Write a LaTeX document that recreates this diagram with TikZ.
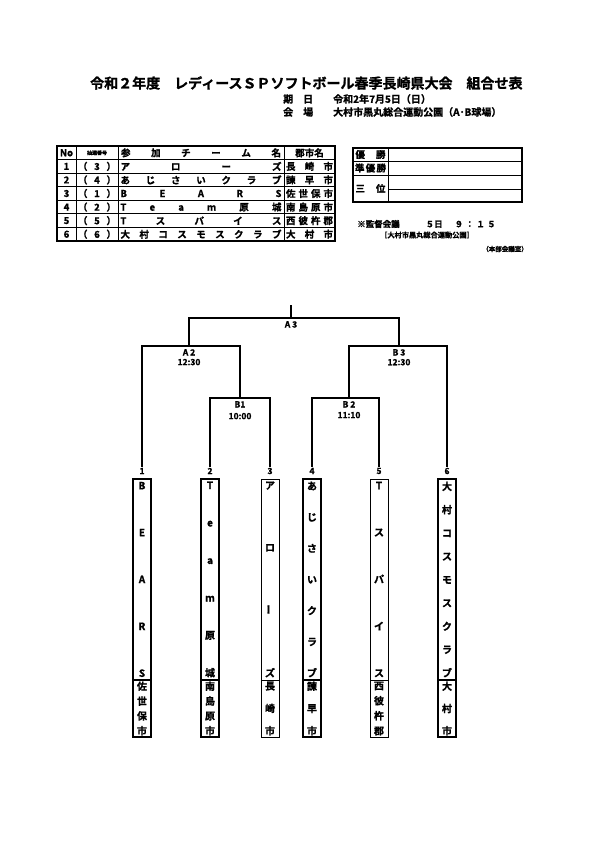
\documentclass[tikz,border=0pt]{standalone}
\usepackage{fontspec}
\setmainfont{Noto Sans CJK JP}[BoldFont={Noto Sans CJK JP Bold}, BoldFeatures={FakeBold=1.2}]
\tikzset{
  bracket/.style={line width=1.1pt},
  namebox/.style={draw, line width=1.5pt, minimum width=18pt, minimum height=201pt, inner sep=0pt},
  citybox/.style={draw, line width=1.5pt, minimum width=18pt, minimum height=57pt, inner sep=0pt},
  lbl/.style={font=\bfseries\fontsize{8.5}{8.5}\selectfont, inner sep=1pt},
  cell/.style={font=\bfseries\fontsize{9.5}{9.5}\selectfont, inner sep=0pt},
}
\newcommand{\vname}[2]{\parbox[c][#1][s]{16pt}{\centering #2}}
\newcommand{\vb}{\par\vfill}
\begin{document}
\begin{tikzpicture}[x=1pt,y=-1pt,font=\bfseries]
  \useasboundingbox[fill=white] (0,0) rectangle (595,842);
  % Title
  \node[anchor=west, inner sep=0pt, font=\bfseries\fontsize{14}{14}\selectfont] (title) at (90,83)
    {令和２年度　レディースＳＰソフトボール春季長崎県大会　組合せ表};
  \node[anchor=west, inner sep=0pt, font=\bfseries\fontsize{10}{10}\selectfont] (datekey) at (283,99) {期　日};
  \node[anchor=west, inner sep=0pt, font=\bfseries\fontsize{10}{10}\selectfont] (dateval) at (333,99) {令和2年7月5日（日）};
  \node[anchor=west, inner sep=0pt, font=\bfseries\fontsize{10}{10}\selectfont] (sitekey) at (283,112) {会　場};
  \node[anchor=west, inner sep=0pt, font=\bfseries\fontsize{10}{10}\selectfont] (siteval) at (333,112) {大村市黒丸総合運動公園（A･B球場）};
  % Entry table
  \draw[line width=1.6pt] (57,146) rectangle (335,241);
  \foreach \y in {159.6,173.1,186.7,200.3,213.9,227.4}
    \draw[line width=1pt] (57,\y) -- (335,\y);
  \foreach \x in {76,118,284}
    \draw[line width=1pt] (\x,146) -- (\x,241);
  \node[cell] (hno) at (66.5,152.8) {No};
  \node[cell, font=\bfseries\fontsize{5}{5}\selectfont] (hlot) at (97,152.8) {抽選番号};
  \node[cell] (hteam) at (201,152.8) {\makebox[160pt][s]{参\hfill 加\hfill チ\hfill ー\hfill ム\hfill 名}};
  \node[cell] (hcity) at (309.5,152.8) {郡市名};
  \foreach \lot/\team/\city [count=\i] in {
      3/{ア\hfill ロ\hfill ー\hfill ズ}/{長\hfill 崎\hfill 市},
      4/{あ\hfill じ\hfill さ\hfill い\hfill ク\hfill ラ\hfill ブ}/{諫\hfill 早\hfill 市},
      1/{B\hfill E\hfill A\hfill R\hfill S}/{佐\hfill 世\hfill 保\hfill 市},
      2/{T\hfill e\hfill a\hfill m\hfill 原\hfill 城}/{南\hfill 島\hfill 原\hfill 市},
      5/{T\hfill ス\hfill パ\hfill イ\hfill ス}/{西\hfill 彼\hfill 杵\hfill 郡},
      6/{大\hfill 村\hfill コ\hfill ス\hfill モ\hfill ス\hfill ク\hfill ラ\hfill ブ}/{大\hfill 村\hfill 市}} {
    \node[cell] (no\i) at (66.5,152.8+13.57*\i) {\i};
    \node[cell] (lot\i) at (97,152.8+13.57*\i) {\makebox[38pt][s]{（\hfill\lot\hfill ）}};
    \node[cell] (team\i) at (201,152.8+13.57*\i) {\makebox[161pt][s]{\team}};
    \node[cell] (city\i) at (309.5,152.8+13.57*\i) {\makebox[47pt][s]{\city}};
  }
  % Result table
  \draw[line width=1.4pt] (353,148) rectangle (522,202);
  \draw[line width=0.9pt] (353,161) -- (522,161);
  \draw[line width=0.9pt] (353,175) -- (522,175);
  \draw[line width=0.9pt] (388,189) -- (522,189);
  \draw[line width=0.9pt] (388,148) -- (388,202);
  \node[cell] (win) at (370.5,154.5) {\makebox[30pt][s]{優\hfill 勝}};
  \node[cell] (second) at (370.5,168) {\makebox[31pt][s]{準\hfill 優\hfill 勝}};
  \node[cell] (third) at (370.5,188.5) {\makebox[30pt][s]{三\hfill 位}};
  % Notes
  \node[anchor=west, inner sep=0pt, font=\bfseries\fontsize{8.5}{8.5}\selectfont] (meeting) at (357,224)
    {※監督会議\hspace{26pt}５日\hspace{12pt}\makebox[41pt][s]{９\hfill ：\hfill １\hfill ５}};
  \node[anchor=west, inner sep=0pt, font=\bfseries\fontsize{7.2}{7.2}\selectfont] (meetsite) at (380,235) {［大村市黒丸総合運動公園］};
  \node[anchor=east, inner sep=0pt, font=\bfseries\fontsize{6.5}{6.5}\selectfont] (meetroom) at (528,249) {（本部会議室）};
  % Teams
  \foreach \x/\nm/\ct/\w [count=\i] in {
      142/{B\vb E\vb A\vb R\vb S}/{佐\vb 世\vb 保\vb 市}/1.5pt,
      210/{T\vb e\vb a\vb m\vb 原\vb 城}/{南\vb 島\vb 原\vb 市}/1.5pt,
      270/{ア\vb ロ\vb \rotatebox{90}{ー}\vb ズ}/{長\vb 崎\vb 市}/0.9pt,
      312/{あ\vb じ\vb さ\vb い\vb ク\vb ラ\vb ブ}/{諫\vb 早\vb 市}/1.5pt,
      379/{T\vb ス\vb パ\vb イ\vb ス}/{西\vb 彼\vb 杵\vb 郡}/0.9pt,
      447/{大\vb 村\vb コ\vb ス\vb モ\vb ス\vb ク\vb ラ\vb ブ}/{大\vb 村\vb 市}/1.5pt} {
    \node[lbl] (n\i) at (\x,471) {\i};
    \node[namebox, line width=\w, font=\bfseries\fontsize{10}{10}\selectfont] (t\i) at (\x,579.5) {\vname{195pt}{\nm}};
    \node[citybox, line width=\w, font=\bfseries\fontsize{10}{10}\selectfont] (c\i) at (\x,708.5) {\vname{53pt}{\ct}};
  }
  % Bracket
  \coordinate (top) at (291,305);
  \coordinate (a3) at (291,318);
  \coordinate (a2) at (189,346);
  \coordinate (b3) at (399,346);
  \coordinate (b1) at (240,398);
  \coordinate (b2) at (349,398);
  \draw[bracket] (top) -- (a3);
  \draw[bracket] (a2) |- (a3) -| (b3);
  \draw[bracket, line width=1.5pt] (n1.north) |- (a2) -| (b1);
  \draw[bracket, line width=1.5pt] (n6.north) |- (b3) -| (b2);
  \draw[bracket] (n2.north) |- (b1) -| (n3.north);
  \draw[bracket] (n4.north) |- (b2) -| (n5.north);
  \node[lbl, below=2pt] (la3) at (a3) {A 3};
  \node[lbl, below=2pt] (la2) at (a2) {A 2};
  \node[lbl, below=1pt] (ta2) at (la2.south) {12:30};
  \node[lbl, below=2pt] (lb3) at (b3) {B 3};
  \node[lbl, below=1pt] (tb3) at (lb3.south) {12:30};
  \node[lbl, below=2pt] (lb1) at (b1) {B1};
  \node[lbl, below=3pt] (tb1) at (lb1.south) {10:00};
  \node[lbl, below=2pt] (lb2) at (b2) {B 2};
  \node[lbl, below=2pt] (tb2) at (lb2.south) {11:10};
\end{tikzpicture}
\end{document}
